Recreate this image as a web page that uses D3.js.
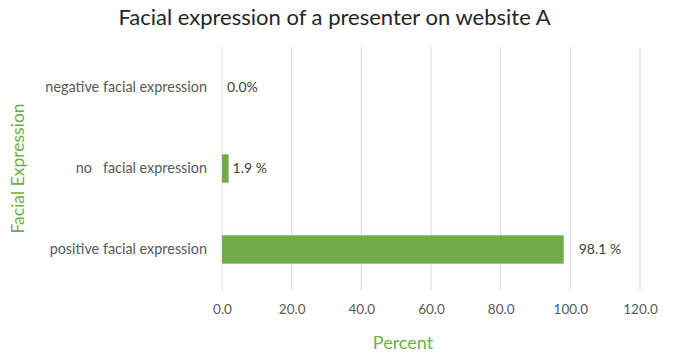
<!DOCTYPE html>
<html>
<head>
<meta charset="utf-8">
<script src="https://cdn.jsdelivr.net/npm/d3@7"></script>
<style>
  html, body { margin: 0; padding: 0; background: #fff; }
  svg { display: block; font-family: Lato, "Open Sans", sans-serif; }
</style>
</head>
<body>
<svg id="chart" width="673" height="356"></svg>
<script>
// Categories (top to bottom) and their percentages
const categories = ["negative facial expression", "no   facial expression", "positive facial expression"];
const percentValues = [0.0, 1.9, 98.1];
const valueLabels = ["0.0%", "1.9 %", "98.1 %"];
const xTicks = [0, 20, 40, 60, 80, 100, 120];

const svg = d3.select("#chart");
const margin = { top: 47, right: 33, bottom: 66, left: 222 };
const W = 673, H = 356;

const x = d3.scaleLinear().domain([0, 120]).range([margin.left, W - margin.right]);
const y = d3.scaleBand().domain(categories).range([margin.top, H - margin.bottom]).paddingInner(0.65).paddingOuter(0.325);

const green = "#70ad47";
const textGray = "#595959";

// Title
svg.append("text")
  .attr("x", W / 2 - 2).attr("y", 25)
  .attr("text-anchor", "middle")
  .attr("font-size", 22)
  .attr("fill", "#262626")
  .text("Facial expression of a presenter on website A");

// Vertical gridlines
svg.append("g").selectAll("line").data(xTicks).join("line")
  .attr("x1", d => x(d)).attr("x2", d => x(d))
  .attr("y1", margin.top).attr("y2", H - margin.bottom)
  .attr("stroke", "#d9d9d9").attr("stroke-width", 1);

// Bottom axis (labels only)
const xAxis = d3.axisBottom(x).tickValues(xTicks).tickFormat(d3.format(".1f")).tickSize(0).tickPadding(14);
const gx = svg.append("g").attr("transform", `translate(0,${H - margin.bottom})`).call(xAxis);
gx.select(".domain").remove();
gx.selectAll("text").attr("font-size", 13.5).attr("fill", textGray).attr("font-family", "Lato, 'Open Sans', sans-serif");

// Left axis (category labels only)
const yAxis = d3.axisLeft(y).tickSize(0).tickPadding(15);
const gy = svg.append("g").attr("transform", `translate(${margin.left},0)`).call(yAxis);
gy.select(".domain").remove();
gy.selectAll("text").attr("font-size", 14.4).attr("fill", textGray).attr("font-family", "Lato, 'Open Sans', sans-serif")
  .style("white-space", "pre").attr("xml:space", "preserve");

// Bars
svg.append("g").selectAll("rect").data(percentValues).join("rect")
  .attr("x", x(0))
  .attr("y", (d, i) => y(categories[i]))
  .attr("width", d => x(d) - x(0))
  .attr("height", y.bandwidth())
  .attr("fill", green);

// Value labels
const labelGap = [5, 4, 15];
svg.append("g").selectAll("text").data(percentValues).join("text")
  .attr("x", (d, i) => x(d) + labelGap[i])
  .attr("y", (d, i) => y(categories[i]) + y.bandwidth() / 2)
  .attr("dy", "0.35em")
  .attr("font-size", 14)
  .attr("fill", "#404040")
  .text((d, i) => valueLabels[i]);

// Axis titles
svg.append("text")
  .attr("x", 403).attr("y", 349)
  .attr("text-anchor", "middle")
  .attr("font-size", 18)
  .attr("fill", green)
  .text("Percent");

svg.append("text")
  .attr("transform", `translate(24,${(margin.top + H - margin.bottom) / 2}) rotate(-90)`)
  .attr("text-anchor", "middle")
  .attr("font-size", 17.5)
  .attr("fill", green)
  .text("Facial Expression");
</script>
</body>
</html>
